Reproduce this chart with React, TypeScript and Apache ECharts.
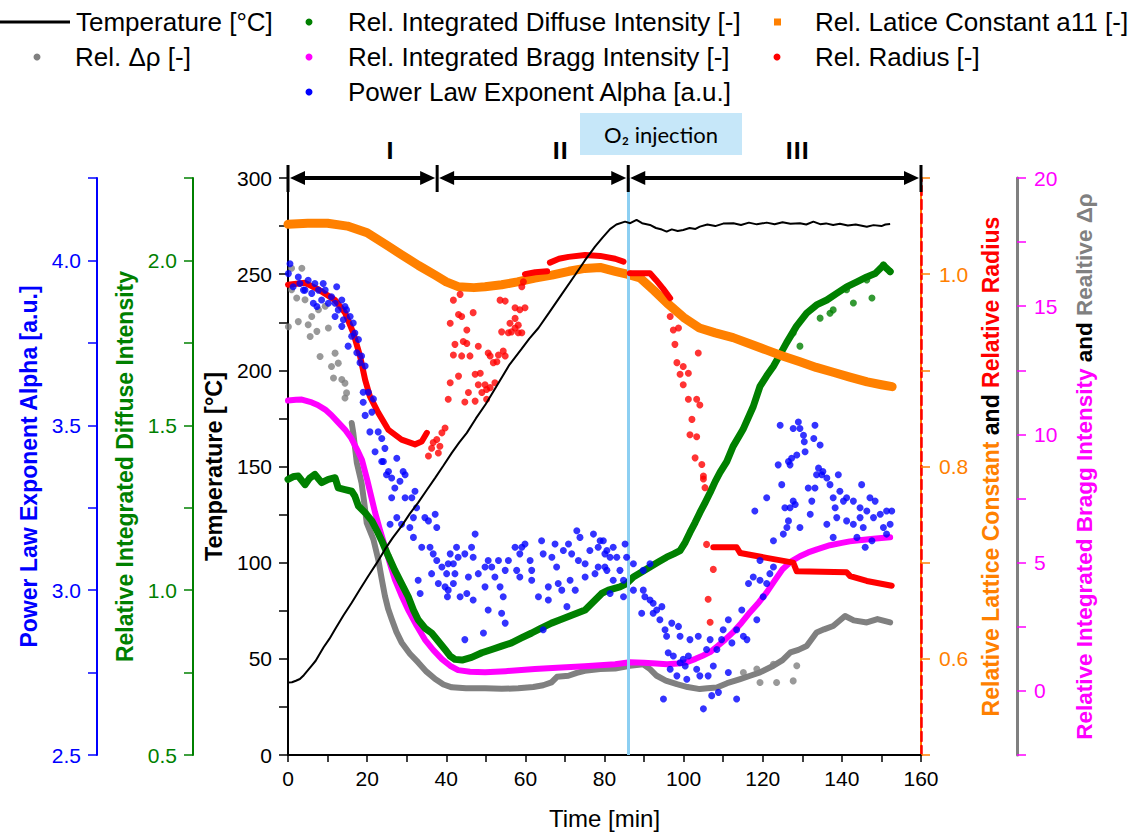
import React, { useEffect, useRef } from "react";
import * as echarts from "echarts";

// ---------- DATA (time in min, values in axis units) ----------
const temperature: [number, number][] = [
  [0, 37.7], [1, 37.8], [2, 38.6], [3, 39.5], [4, 41.5], [5, 44], [6, 46.5], [7, 49], [7.7, 51.5], [9, 56],
  [10.5, 60.5], [11.9, 65.4], [14, 72.5], [16.1, 79.2], [18, 85.5], [20.3, 93.1], [22.5, 100], [24.5, 106.9],
  [26.5, 113], [28.7, 119], [30.8, 125.5], [32.9, 131.2], [35, 137.5], [37.2, 144.1], [39.3, 150.5], [41.4, 157.1],
  [43.3, 162.5], [45.2, 167.5], [47.5, 175], [50, 182.5], [53.2, 193.4], [56, 203], [59, 211], [61, 216.5],
  [63.3, 222], [66, 230], [69, 239], [72.6, 249.7], [75, 257], [77.6, 264.3], [79.5, 269], [81.4, 273.4],
  [83, 275.8], [85.2, 277.3], [86.5, 276.5], [88.1, 278.2], [89.5, 276.5], [91.5, 275.6], [93, 274], [94.5, 273.2],
  [95.7, 272.1], [97, 273.3], [98.5, 272.4], [99.9, 273], [101.5, 274], [103, 273.5], [104.1, 274.7], [106, 275.8],
  [108, 275], [110, 276.3], [112.6, 276.5], [114.5, 275.6], [116.5, 276.8], [118.5, 275.9], [121, 276.8], [123, 276],
  [125, 277], [127, 276.2], [129.4, 276.5], [131, 275.8], [132.8, 277.3], [134.5, 276], [136, 276.4], [137.8, 275.6],
  [139.5, 276.2], [141.5, 275.3], [143.5, 275.8], [146.3, 274.7], [148, 275.5], [150, 275], [151, 275.8], [152.2, 276.1],
];

const latticeConstant: [number, number][] = [
  [0, 1.052], [5, 1.053], [10, 1.053], [15, 1.05], [20, 1.043], [25, 1.03], [28.8, 1.02], [33, 1.009], [37.2, 0.999],
  [40, 0.992], [43, 0.987], [47, 0.986], [49.8, 0.987], [54, 0.989], [58, 0.992], [62.4, 0.996], [66.7, 0.999],
  [71, 1.003], [75, 1.006], [78.9, 1.007], [82.7, 1.003], [85.7, 1.0], [89, 0.996], [92.5, 0.983], [95.8, 0.97],
  [100, 0.955], [104, 0.944], [108, 0.939], [112.5, 0.934], [116.5, 0.928], [121, 0.921], [125, 0.915], [129.4, 0.909],
  [133.5, 0.903], [137.8, 0.898], [142, 0.893], [146.4, 0.888], [150, 0.885], [152.7, 0.883],
];

const radiusLine: [number, number | null][] = [
  [0, 0.989], [4.3, 0.991], [7.7, 0.984], [11.9, 0.973], [14.4, 0.96], [16.5, 0.939], [18.2, 0.915], [19.5, 0.89],
  [20.7, 0.873], [22.8, 0.856], [25.4, 0.838], [28.7, 0.828], [32.1, 0.823], [33.8, 0.826], [35.1, 0.835],
  [47, null],
  [59.9, 1.0], [62.5, 1.002], [65.5, 1.003],
  [65.9, null],
  [66.2, 1.012], [68.5, 1.016], [70.9, 1.018], [75.1, 1.02], [78.9, 1.019], [82.7, 1.016], [84.8, 1.013],
  [85.5, null],
  [86.4, 1.001], [91.5, 1.001], [93, 0.994], [94.8, 0.985], [96.6, 0.975],
  [100, null],
  [107.5, 0.716], [113.4, 0.716], [114.3, 0.71], [121, 0.705], [127.7, 0.7], [128.6, 0.691], [141.2, 0.69],
  [142.1, 0.686], [146.3, 0.681], [152.6, 0.676],
];

const radiusScatter: [number, number][] = [
  [35.5, 0.811], [36.3, 0.819], [37.6, 0.828], [38.4, 0.821], [39.7, 0.84], [38.9, 0.835], [38.0, 0.814], [36.7, 0.825],
  [41.8, 0.973], [43.5, 0.979], [41.0, 0.949], [43.1, 0.958], [43.9, 0.956], [46.8, 0.96], [45.2, 0.942], [42.2, 0.927],
  [44.3, 0.93], [45.2, 0.928], [48.1, 0.925], [41.8, 0.916], [43.9, 0.915], [46.0, 0.915], [43.1, 0.894], [41.0, 0.887],
  [40.5, 0.87], [44.7, 0.867], [45.6, 0.877], [47.3, 0.868], [47.3, 0.896], [48.6, 0.897], [48.1, 0.885], [49.8, 0.885],
  [50.2, 0.88], [49.0, 0.877], [51.1, 0.882], [52.3, 0.887], [50.2, 0.87], [50.6, 0.918], [51.1, 0.915], [51.9, 0.908],
  [53.2, 0.916], [54.4, 0.92], [54.9, 0.915], [52.8, 0.909], [54.0, 0.94], [55.7, 0.939], [56.5, 0.94], [57.4, 0.944],
  [58.2, 0.939], [59.1, 0.939], [56.1, 0.949], [57.4, 0.954], [58.2, 0.947], [58.6, 0.963], [57.4, 0.965], [59.9, 0.965],
  [53.6, 0.973], [54.9, 0.972], [59.1, 0.987], [59.5, 0.992],
  [96.6, 0.956], [97.4, 0.942], [98.7, 0.944], [97.8, 0.927], [103.7, 0.918], [98.3, 0.908], [99.9, 0.904], [99.1, 0.896],
  [101.2, 0.897], [99.9, 0.885], [101.2, 0.87], [103.3, 0.87], [104.1, 0.864], [102.1, 0.849], [101.6, 0.833],
  [103.3, 0.831], [102.9, 0.809], [104.6, 0.802], [105.0, 0.79], [105.0, 0.787], [105.4, 0.778], [105.8, 0.719],
  [107.5, 0.693], [106.2, 0.662], [106.7, 0.638],
];

const braggIntensity: [number, number][] = [
  [0, 11.32], [2, 11.35], [3.5, 11.36], [6, 11.25], [7.5, 11.15], [9.4, 10.97], [11, 10.75], [12.5, 10.5], [14.4, 10.19],
  [16, 9.85], [17.5, 9.4], [18.7, 9.0], [20, 8.24], [21, 7.6], [22, 6.96], [23.2, 6.3], [24.5, 5.64], [25.7, 5.0],
  [27, 4.35], [28.6, 3.75], [30.3, 3.18], [32.5, 2.55], [34.6, 2.0], [36.7, 1.6], [38.9, 1.24], [41, 0.98], [43, 0.81],
  [46, 0.75], [49.8, 0.73], [55, 0.77], [62.4, 0.85], [68, 0.9], [75, 0.96], [82.7, 1.04], [86.4, 1.12], [90, 1.1],
  [93, 1.07], [95.8, 1.04], [98.5, 1.07], [100.8, 1.12], [103, 1.25], [104.8, 1.37], [106.7, 1.51], [108.6, 1.75],
  [110.5, 2.0], [112.5, 2.29], [114.6, 2.65], [116.8, 3.07], [119, 3.45], [121, 3.84], [123, 4.3], [125, 4.74],
  [127.2, 5.05], [129.4, 5.25], [131.5, 5.4], [133.7, 5.52], [137, 5.68], [140, 5.77], [142, 5.83], [145, 5.88],
  [148, 5.93], [150, 5.96], [152.2, 5.99],
];

const deltaRhoTrend: [number, number][] = [
  [16.1, 10.45], [16.5, 10.06], [17.4, 8.89], [18.2, 8.37], [18.6, 8.1], [19.3, 7.3], [19.9, 6.55], [21.6, 5.9],
  [22.8, 5.13], [23.7, 4.35], [24.5, 3.7], [25.3, 3.2], [26.2, 2.8], [27.4, 2.3], [28.7, 1.89], [30.8, 1.45],
  [32.9, 1.11], [35, 0.75], [37.2, 0.46], [39.3, 0.25], [41.4, 0.14], [45, 0.1], [49.8, 0.1], [54, 0.08], [58.2, 0.1],
  [62, 0.15], [64.5, 0.22], [66.6, 0.33], [68, 0.55], [70.9, 0.59], [73, 0.7], [75, 0.78], [78.9, 0.85], [82.7, 0.87],
  [86.4, 0.98], [89.8, 1.04], [91.5, 0.85], [93.2, 0.59], [95.5, 0.4], [98.3, 0.26], [101, 0.15], [104.1, 0.07],
  [106, 0.1], [108.4, 0.13], [111, 0.3], [114.3, 0.46], [117, 0.6], [119.3, 0.72], [122.7, 0.98], [125, 1.2],
  [127, 1.5], [129, 1.6], [131.1, 1.75], [133.6, 2.28], [135.5, 2.4], [137.8, 2.53], [140.8, 2.92], [143, 2.75],
  [146.3, 2.67], [149, 2.8], [152.2, 2.67],
];

const deltaRhoScatter: [number, number][] = [
  [0.1, 14.2], [0.9, 15.64], [0.9, 16.48], [2.2, 15.32], [2.6, 14.4], [3.5, 16.48], [4.3, 15.25], [5.1, 14.28],
  [5.6, 13.82], [6.0, 14.6], [7.3, 14.02], [7.7, 14.86], [8.1, 13.04], [9.4, 15.0], [10.2, 14.15], [11.0, 12.65],
  [11.5, 12.2], [11.9, 13.17], [12.7, 12.78], [13.6, 12.14], [14.4, 12.0], [14.8, 11.62], [14.4, 11.42],
  [119.3, 0.33], [123.5, 0.33], [127.7, 0.39], [128.6, 0.98], [122.7, 1.04], [118.5, 0.85], [115.1, 0.72],
];

const diffuseIntensity: [number, number][] = [
  [0, 1.336], [1.5, 1.345], [2.6, 1.346], [4.3, 1.32], [5.5, 1.34], [6.8, 1.351], [8.5, 1.326], [10.2, 1.336],
  [11.9, 1.341], [12.7, 1.31], [14.4, 1.305], [16.1, 1.3], [16.9, 1.285], [17.8, 1.255], [19.5, 1.235], [21.2, 1.21],
  [22.5, 1.18], [23.7, 1.15], [25.3, 1.105], [27, 1.06], [28.7, 1.02], [30.4, 0.98], [31.7, 0.94], [32.9, 0.91],
  [34.6, 0.885], [36.3, 0.87], [38, 0.845], [39.7, 0.82], [41, 0.8], [42.2, 0.79], [44, 0.788], [46.4, 0.796],
  [49, 0.81], [51.5, 0.82], [54, 0.83], [56.5, 0.84], [59, 0.855], [61.6, 0.87], [64, 0.885], [66.6, 0.9],
  [68.8, 0.91], [70.9, 0.92], [73, 0.93], [75.1, 0.94], [77.2, 0.965], [79.3, 0.99], [81, 1.0], [83.9, 1.01],
  [85.6, 1.02], [87.3, 1.04], [89.4, 1.055], [91.5, 1.07], [93.6, 1.085], [95.7, 1.1], [97.5, 1.11], [99.1, 1.12],
  [100.4, 1.145], [101.6, 1.175], [102.9, 1.205], [104.1, 1.235], [105.4, 1.265], [106.7, 1.296], [108, 1.33],
  [109.2, 1.357], [110.9, 1.39], [112.5, 1.436], [115, 1.487], [117.6, 1.557], [119.3, 1.618], [121, 1.65],
  [122.7, 1.679], [124.4, 1.715], [126, 1.75], [128.5, 1.8], [131.1, 1.84], [133.6, 1.865], [136.2, 1.88],
  [138.7, 1.9], [141.2, 1.92], [143.8, 1.935], [146.3, 1.95], [148.4, 1.96], [150.5, 1.985], [152.2, 1.966],
];

const diffuseScatter: [number, number][] = [
  [127.7, 1.78], [129.4, 1.74], [134.5, 1.825], [137, 1.84], [137.8, 1.85], [142.9, 1.871], [147.6, 1.886],
  [146.3, 1.941], [141.2, 1.911], [150.5, 1.987], [152.2, 1.966],
];

const alphaExponent: [number, number][] = [
  [0.5, 3.99], [0.1, 3.96], [2.6, 3.95], [1.3, 3.92], [3.0, 3.93], [4.3, 3.91], [5.1, 3.94], [6.8, 3.93], [6.0, 3.9],
  [3.9, 3.91], [7.7, 3.91], [8.9, 3.93], [9.4, 3.91], [12.3, 3.92], [8.5, 3.88], [11.0, 3.89], [7.3, 3.86], [6.4, 3.87],
  [10.2, 3.87], [11.9, 3.87], [13.6, 3.88], [14.4, 3.86], [12.7, 3.85], [14.8, 3.85], [11.9, 3.83], [14.0, 3.82],
  [15.7, 3.83], [16.5, 3.81], [13.6, 3.8], [16.9, 3.78], [16.1, 3.77], [17.8, 3.76], [15.2, 3.74], [17.4, 3.72],
  [18.2, 3.69], [19.5, 3.68], [18.6, 3.71], [19.0, 3.6], [20.3, 3.6], [21.6, 3.58], [19.0, 3.57], [19.5, 3.53],
  [21.2, 3.54], [20.7, 3.48], [22.8, 3.48], [23.7, 3.46], [22.0, 3.42], [24.5, 3.43], [27.5, 3.4], [23.7, 3.39],
  [25.4, 3.36], [29.6, 3.35], [24.1, 3.39], [24.9, 3.35], [26.2, 3.34], [29.1, 3.36], [28.3, 3.33], [27.0, 3.31],
  [26.2, 3.28], [29.6, 3.28], [31.3, 3.28], [32.1, 3.3], [32.5, 3.25], [31.7, 3.22], [34.6, 3.22], [35.5, 3.21],
  [37.2, 3.23], [27.5, 3.22], [25.8, 3.2], [28.7, 3.2], [30.8, 3.19], [37.6, 3.19], [31.7, 3.16], [47.3, 3.17],
  [33.8, 3.13], [35.9, 3.13], [36.7, 3.11], [37.6, 3.09], [38.9, 3.07], [40.5, 3.08], [41.8, 3.08], [43.0, 3.1],
  [41.0, 3.11], [42.6, 3.13], [44.7, 3.11], [46.4, 3.13], [46.8, 3.1], [32.9, 3.03], [36.3, 3.05], [40.1, 3.05],
  [42.2, 3.05], [38.0, 3.02], [39.7, 3.01], [41.8, 3.02], [40.5, 3.0], [33.4, 2.99], [40.3, 2.98], [43.5, 2.98],
  [45.2, 2.99], [46.8, 2.97], [45.6, 3.04], [48.1, 3.05], [49.8, 3.07], [50.6, 3.09], [51.5, 3.07], [53.2, 3.09],
  [54.9, 3.06], [55.7, 3.09], [57.8, 3.06], [57.4, 3.13], [59.1, 3.13], [59.9, 3.14], [58.6, 3.11], [61.2, 3.09],
  [61.6, 3.06], [52.3, 3.04], [49.8, 3.01], [53.6, 3.01], [50.6, 2.94], [54.4, 2.98], [54.0, 2.93], [54.9, 2.9],
  [44.7, 2.85], [49.4, 2.87], [64.1, 3.15], [64.5, 3.11], [66.7, 3.1], [67.5, 3.14], [67.9, 3.07], [69.6, 3.12],
  [70.9, 3.14], [71.7, 3.11], [73.0, 3.18], [73.8, 3.16], [73.4, 3.09], [75.1, 3.08], [76.3, 3.12], [77.2, 3.17],
  [78.9, 3.15], [78.4, 3.13], [80.6, 3.12], [81.4, 3.1], [80.1, 3.07], [65.8, 3.01], [68.3, 3.02], [71.3, 3.03],
  [69.2, 3.0], [63.3, 2.98], [65.8, 2.97], [72.6, 3.0], [70.5, 2.95], [64.5, 2.88], [77.6, 3.05], [75.1, 3.04],
  [78.4, 3.07], [61.6, 3.03], [58.6, 3.04],
  [79.7, 3.15], [82.2, 3.13], [85.2, 3.14], [80.1, 3.11], [83.1, 3.1], [85.6, 3.1], [80.6, 3.06], [83.9, 3.06],
  [82.2, 3.03], [84.8, 3.03], [87.3, 3.08], [89.8, 3.06], [91.5, 3.08], [81.4, 2.99], [84.8, 2.98], [87.3, 3.0],
  [89.8, 3.0], [90.2, 2.98], [91.5, 2.97], [89.4, 2.93], [92.3, 2.96], [93.2, 2.94], [94.5, 2.95], [92.3, 2.93],
  [94.0, 2.91], [95.3, 2.88], [97.0, 2.9], [98.7, 2.89], [95.7, 2.86], [99.1, 2.86], [101.6, 2.85], [103.7, 2.86],
  [96.1, 2.81], [97.4, 2.8], [99.9, 2.79], [101.2, 2.8], [105.8, 2.82], [106.7, 2.85], [108.4, 2.82], [109.6, 2.85],
  [111.3, 2.91], [110.0, 2.88], [112.2, 2.84], [113.4, 2.88], [115.1, 2.86], [116.0, 2.85], [114.7, 2.94],
  [116.4, 3.02], [117.6, 3.04], [118.5, 2.91], [120.1, 2.98], [119.3, 3.03], [121.0, 3.02], [121.8, 3.05],
  [122.7, 3.07], [119.3, 3.09], [122.7, 3.15], [125.2, 3.17], [126.1, 3.19], [126.5, 3.21], [129.4, 3.19],
  [125.6, 3.25], [126.9, 3.25], [128.2, 3.26], [127.7, 3.27], [132.0, 3.23], [132.4, 3.27], [124.8, 3.32],
  [121.0, 3.28], [118.0, 3.24], [123.9, 3.38], [126.5, 3.39], [127.3, 3.4], [128.6, 3.41], [130.7, 3.42],
  [127.7, 3.49], [129.4, 3.49], [130.3, 3.47], [130.5, 3.45], [133.2, 3.5], [134.5, 3.44], [129.0, 3.51],
  [124.4, 3.5], [132.9, 3.46], [126.9, 3.38], [134.1, 3.37], [134.9, 3.35], [139.1, 3.35],
  [131.5, 3.31], [133.2, 3.31], [133.6, 3.35], [135.2, 3.36], [136.2, 3.34], [137.0, 3.32], [139.5, 3.3],
  [141.2, 3.28], [137.8, 3.28], [138.3, 3.25], [140.4, 3.27], [142.9, 3.27], [145.0, 3.32], [147.1, 3.28],
  [144.6, 3.25], [146.3, 3.24], [148.4, 3.27], [138.7, 3.22], [141.2, 3.21], [142.9, 3.2], [144.6, 3.22],
  [145.4, 3.19], [148.0, 3.22], [149.7, 3.23], [151.3, 3.24], [152.6, 3.24], [152.2, 3.2], [150.5, 3.19],
  [151.3, 3.17], [136.2, 3.2], [137.8, 3.16], [143.8, 3.16], [145.9, 3.13], [147.6, 3.15],
  [94.9, 2.67], [105.0, 2.64], [113.4, 2.67], [107.1, 2.68], [108.8, 2.69], [98.3, 2.74], [100.8, 2.73],
  [103.3, 2.76], [104.1, 2.74], [106.2, 2.74], [107.5, 2.77], [111.3, 2.75], [100.4, 2.77], [96.6, 2.76], [99.1, 2.78],
];

// phase annotation (time in min)
const phaseBounds = [0, 37.7, 86, 160];
const phaseNames = ["I", "II", "III"];
const phaseLabelTimes = [25.8, 68.8, 128.7];
const o2InjectionTime = 86;

// ---------- STYLE ----------
const FF = '"Liberation Sans", Arial, Helvetica, sans-serif';
const C = {
  blue: "#0000ff",
  green: "#008000",
  orange: "#ff8000",
  red: "#ff0000",
  magenta: "#ff00ff",
  grey: "#808080",
  black: "#000000",
  o2: "#8ccff2",
};

const fmtEvery = (step: number, digits: number) => (v: number) => {
  const k = v / step;
  return Math.abs(k - Math.round(k)) < 1e-6 ? v.toFixed(digits) : "";
};

function yAxisBase(color: string, position: string, offset: number, extra: any) {
  return {
    type: "value",
    position,
    offset,
    axisLine: { show: true, onZero: false, lineStyle: { color, width: 2 } },
    axisTick: { show: true, inside: false, length: 9, lineStyle: { color, width: 1.5 } },
    axisLabel: { color, fontSize: 21, fontFamily: FF, margin: 16 },
    splitLine: { show: false },
    nameLocation: "middle",
    nameRotate: 90,
    ...extra,
  };
}

export default function App() {
  const ref = useRef<HTMLDivElement>(null);

  useEffect(() => {
    if (!ref.current) return;
    const chart = echarts.init(ref.current, null, { renderer: "svg" });

    const option: any = {
      animation: false,
      backgroundColor: "#ffffff",
      textStyle: { fontFamily: FF },
      grid: { left: 288, right: 215, top: 178, bottom: 79, containLabel: false },
      xAxis: {
        type: "value",
        min: 0,
        max: 160,
        interval: 10,
        axisLine: { onZero: false, lineStyle: { color: "#000", width: 2 } },
        axisTick: { length: 7, lineStyle: { color: "#000", width: 1.5 } },
        axisLabel: { color: "#000", fontSize: 21, fontFamily: FF, margin: 13, formatter: fmtEvery(20, 0) },
        splitLine: { show: false },
        name: "Time [min]",
        nameLocation: "middle",
        nameGap: 51,
        nameTextStyle: { color: "#000", fontSize: 24, fontFamily: FF },
      },
      yAxis: [
        yAxisBase("#000", "left", 0, {
          min: 0, max: 300, interval: 25,
          axisLabel: { color: "#000", fontSize: 21, fontFamily: FF, margin: 16, formatter: fmtEvery(50, 0) },
          name: "Temperature [°C]", nameGap: 58,
          nameTextStyle: { color: "#000", fontSize: 23.5, fontWeight: "bold", fontFamily: FF },
        }),
        yAxisBase(C.green, "left", 95, {
          min: 0.5, max: 2.25, interval: 0.25,
          axisLabel: { color: C.green, fontSize: 21, fontFamily: FF, margin: 16, formatter: fmtEvery(0.5, 1) },
          name: "Relative Integrated Diffuse Intensity", nameGap: 52,
          nameTextStyle: { color: C.green, fontSize: 23, fontWeight: "bold", fontFamily: FF },
        }),
        yAxisBase(C.blue, "left", 191, {
          min: 2.5, max: 4.25, interval: 0.25,
          axisLabel: { color: C.blue, fontSize: 21, fontFamily: FF, margin: 16, formatter: fmtEvery(0.5, 1) },
          name: "Power Law Exponent Alpha [a.u.]", nameGap: 50,
          nameTextStyle: { color: C.blue, fontSize: 23, fontWeight: "bold", fontFamily: FF },
        }),
        yAxisBase(C.orange, "right", 0, {
          min: 0.5, max: 1.1, interval: 0.1,
          axisLabel: {
            color: C.orange, fontSize: 21, fontFamily: FF, margin: 18,
            formatter: (v: number) => {
              const k = Math.round(v * 10);
              return k === 6 || k === 8 || k === 10 ? (k / 10).toFixed(1) : "";
            },
          },
          name: "{o|Relative Lattice Constant} {k|and} {r|Relative Radius}", nameGap: 53,
          nameTextStyle: {
            fontSize: 23, fontWeight: "bold", fontFamily: FF, color: "#000",
            rich: {
              o: { color: C.orange, fontSize: 23, fontWeight: "bold", fontFamily: FF },
              k: { color: "#000", fontSize: 23, fontWeight: "bold", fontFamily: FF },
              r: { color: C.red, fontSize: 23, fontWeight: "bold", fontFamily: FF },
            },
          },
        }),
        yAxisBase(C.magenta, "right", 96, {
          min: -2.5, max: 20, interval: 2.5,
          axisLine: { show: true, onZero: false, lineStyle: { color: C.grey, width: 3 } },
          axisLabel: { color: C.magenta, fontSize: 21, fontFamily: FF, margin: 17, formatter: fmtEvery(5, 0) },
          name: "{m|Relative Integrated Bragg Intensity} {k|and} {g|Realtive Δρ}", nameGap: 56,
          nameTextStyle: {
            fontSize: 22.5, fontWeight: "bold", fontFamily: FF, color: "#000",
            rich: {
              m: { color: C.magenta, fontSize: 22.5, fontWeight: "bold", fontFamily: FF },
              k: { color: "#000", fontSize: 22.5, fontWeight: "bold", fontFamily: FF },
              g: { color: C.grey, fontSize: 22.5, fontWeight: "bold", fontFamily: FF },
            },
          },
        }),
        {
          type: "value", position: "right", offset: 0, min: 0, max: 1,
          axisLine: { show: true, onZero: false, lineStyle: { color: C.red, width: 2.5, type: [9, 5] } },
          axisTick: { show: false }, axisLabel: { show: false }, splitLine: { show: false },
        },
      ],
      series: [
        {
          type: "line", name: "Rel. Δρ [-]", yAxisIndex: 4, data: deltaRhoTrend, symbol: "none",
          lineStyle: { color: C.grey, width: 6, cap: "round", join: "round" }, z: 2, silent: true,
        },
        {
          type: "scatter", name: "Rel. Δρ [-]", yAxisIndex: 4, data: deltaRhoScatter, symbolSize: 7,
          itemStyle: { color: C.grey }, z: 2, silent: true,
        },
        {
          type: "line", name: "Rel. Integrated Bragg Intensity [-]", yAxisIndex: 4, data: braggIntensity, symbol: "none",
          lineStyle: { color: C.magenta, width: 6, cap: "round", join: "round" }, z: 3, silent: true,
        },
        {
          type: "line", name: "Rel. Integrated Diffuse Intensity [-]", yAxisIndex: 1, data: diffuseIntensity, symbol: "none",
          lineStyle: { color: C.green, width: 7, cap: "round", join: "round" }, z: 3, silent: true,
        },
        {
          type: "scatter", name: "Rel. Integrated Diffuse Intensity [-]", yAxisIndex: 1, data: diffuseScatter, symbolSize: 7,
          itemStyle: { color: C.green }, z: 3, silent: true,
        },
        {
          type: "line", name: "Rel. Latice Constant a11 [-]", yAxisIndex: 3, data: latticeConstant, symbol: "none",
          lineStyle: { color: C.orange, width: 9, cap: "round", join: "round" }, z: 4, silent: true,
        },
        {
          type: "line", name: "Rel. Radius [-]", yAxisIndex: 3, data: radiusLine, symbol: "none", connectNulls: false,
          lineStyle: { color: C.red, width: 6, cap: "round", join: "round" }, z: 5, silent: true,
        },
        {
          type: "scatter", name: "Rel. Radius [-]", yAxisIndex: 3, data: radiusScatter, symbolSize: 7,
          itemStyle: { color: C.red }, z: 5, silent: true,
        },
        {
          type: "scatter", name: "Power Law Exponent Alpha [a.u.]", yAxisIndex: 2, data: alphaExponent, symbolSize: 7,
          itemStyle: { color: C.blue }, z: 6, silent: true,
        },
        {
          type: "line", name: "Temperature [°C]", yAxisIndex: 0, data: temperature, symbol: "none",
          lineStyle: { color: C.black, width: 2 }, z: 7, silent: true,
          markLine: {
            silent: true, symbol: ["none", "none"], label: { show: false },
            lineStyle: { color: C.o2, width: 3, type: "solid" },
            data: [{ xAxis: o2InjectionTime }],
          },
        },
      ],
    };

    chart.setOption(option);

    const px = (t: number, temp: number) =>
      chart.convertToPixel({ xAxisIndex: 0, yAxisIndex: 0 }, [t, temp]) as number[];
    const yTop = px(0, 300)[1];
    const bx = phaseBounds.map((t) => px(t, 300)[0]);

    const g: any[] = [];
    // phase arrows
    for (let i = 0; i < phaseNames.length; i++) {
      const x0 = bx[i], x1 = bx[i + 1];
      g.push({ type: "line", shape: { x1: x0 + 10, y1: yTop, x2: x1 - 10, y2: yTop }, style: { stroke: "#000", lineWidth: 4 }, z: 50 });
      g.push({ type: "polygon", shape: { points: [[x0 + 2, yTop], [x0 + 17, yTop - 7], [x0 + 17, yTop + 7]] }, style: { fill: "#000" }, z: 50 });
      g.push({ type: "polygon", shape: { points: [[x1 - 2, yTop], [x1 - 17, yTop - 7], [x1 - 17, yTop + 7]] }, style: { fill: "#000" }, z: 50 });
      g.push({
        type: "text", x: px(phaseLabelTimes[i], 300)[0], y: yTop - 29, z: 50,
        style: { text: phaseNames[i], font: 'bold 24px "Open Sans", "Liberation Sans", Arial, sans-serif', fill: "#000", textAlign: "center", textVerticalAlign: "middle" },
      });
    }
    bx.forEach((x) => {
      g.push({ type: "line", shape: { x1: x, y1: yTop - 13, x2: x, y2: yTop + 14 }, style: { stroke: "#000", lineWidth: 3 }, z: 51 });
    });
    // O2 injection label
    g.push({ type: "rect", shape: { x: 580, y: 113, width: 162, height: 42 }, style: { fill: "#c6e7f9" }, z: 40 });
    g.push({
      type: "text", x: 661, y: 134, z: 41,
      style: { text: "O₂ injection", font: '22px Lato, "Open Sans", sans-serif', fill: "#000", textAlign: "center", textVerticalAlign: "middle" },
    });

    // legend
    const lf = `26px ${FF}`;
    const legendText = (x: number, y: number, text: string) => ({
      type: "text", x, y, z: 60, style: { text, font: lf, fill: "#000", textAlign: "left", textVerticalAlign: "middle" },
    });
    const dot = (x: number, y: number, color: string) => ({ type: "circle", shape: { cx: x, cy: y, r: 3.5 }, style: { fill: color }, z: 60 });
    const r1 = 22, r2 = 57, r3 = 92;
    g.push({ type: "line", shape: { x1: 0, y1: r1, x2: 70, y2: r1 }, style: { stroke: "#000", lineWidth: 3 }, z: 60 });
    g.push(legendText(76, r1, "Temperature [°C]"));
    g.push(dot(37, r2, C.grey));
    g.push(legendText(75, r2, "Rel. Δρ [-]"));
    g.push(dot(309, r1, C.green));
    g.push(legendText(348, r1, "Rel. Integrated Diffuse Intensity [-]"));
    g.push(dot(309, r2, C.magenta));
    g.push(legendText(348, r2, "Rel. Integrated Bragg Intensity [-]"));
    g.push(dot(309, r3, C.blue));
    g.push(legendText(348, r3, "Power Law Exponent Alpha [a.u.]"));
    g.push({ type: "rect", shape: { x: 774, y: r1 - 3.5, width: 7, height: 7 }, style: { fill: C.orange }, z: 60 });
    g.push(legendText(815, r1, "Rel. Latice Constant a11 [-]"));
    g.push(dot(777, r2, C.red));
    g.push(legendText(815, r2, "Rel. Radius [-]"));

    chart.setOption({ graphic: g });

    return () => chart.dispose();
  }, []);

  return <div ref={ref} style={{ position: "fixed", left: 0, top: 0, width: 1136, height: 835, background: "#fff" }} />;
}
